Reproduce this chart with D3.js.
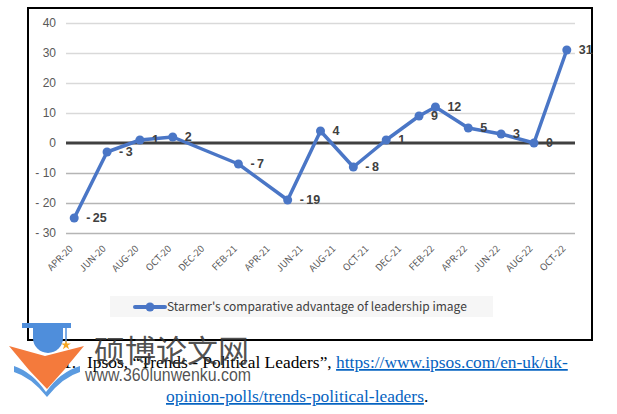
<!DOCTYPE html>
<html><head><meta charset="utf-8">
<script src="https://cdn.jsdelivr.net/npm/d3@7"></script>
<style>body{margin:0;background:#fff}svg{display:block}</style>
</head><body>
<svg id="c" width="617" height="414"></svg>
<script>
// ---- data ----
const pointMonths = ["2020-04","2020-06","2020-08","2020-10","2021-02","2021-05","2021-07","2021-09","2021-11","2022-01","2022-02","2022-04","2022-06","2022-08","2022-10"];
const values = [-25,-3,1,2,-7,-19,4,-8,1,9,12,5,3,0,31];
const tickMonths = ["2020-04","2020-06","2020-08","2020-10","2020-12","2021-02","2021-04","2021-06","2021-08","2021-10","2021-12","2022-02","2022-04","2022-06","2022-08","2022-10"];
const tickLabels = ["APR-20","JUN-20","AUG-20","OCT-20","DEC-20","FEB-21","APR-21","JUN-21","AUG-21","OCT-21","DEC-21","FEB-22","APR-22","JUN-22","AUG-22","OCT-22"];
const yTicks = [-30,-20,-10,0,10,20,30,40];
const seriesName = "Starmer's comparative advantage of leadership image";

const svg = d3.select("#c");
const fmtKey = d3.timeFormat("%Y-%m");
const allMonths = d3.timeMonth.range(new Date(2020,3,1), new Date(2022,10,1)).map(fmtKey);

const x = d3.scaleBand().domain(allMonths).range([66,575]);
const cx = k => x(k) + x.bandwidth()/2;
const y = d3.scaleLinear().domain([-30,40]).range([233,23]);
const blue = "#4a76c6";

// frame
svg.append("rect").attr("x",28).attr("y",8).attr("width",564).attr("height",332)
  .attr("fill","#fff").attr("stroke","#000").attr("stroke-width",2);

// grid
const yAxis = d3.axisLeft(y).tickValues(yTicks).tickSize(-(575-66)).tickPadding(10)
  .tickFormat(d => d < 0 ? "- " + Math.abs(d) : d);
const gy = svg.append("g").attr("transform","translate(66,0)").call(yAxis);
gy.select(".domain").remove();
gy.selectAll(".tick line").attr("stroke", d => d < 0 ? "#b5b5b5" : "#d9d9d9").attr("stroke-width",1.5)
  .attr("display", d => d === 0 ? "none" : null);
gy.selectAll(".tick text").attr("fill","#595959").attr("font-family","Liberation Sans, Arial, sans-serif").attr("font-size",12);

// zero line
svg.append("line").attr("x1",66).attr("x2",575).attr("y1",y(0)).attr("y2",y(0))
  .attr("stroke","#404040").attr("stroke-width",3);

// x axis
const xAxis = d3.axisBottom(x).tickValues(tickMonths).tickSize(0)
  .tickFormat((d,i) => tickLabels[i]);
const gx = svg.append("g").attr("transform",`translate(0,${y(-30)})`).call(xAxis);
gx.select(".domain").remove();
gx.selectAll(".tick text").attr("fill","#595959").attr("font-family","Noto Sans CJK SC, sans-serif")
  .attr("font-size",9.5).attr("text-anchor","end")
  .attr("transform","translate(-3,14) rotate(-45)").attr("dy","0.35em").attr("y",0).attr("x",0);

// line
const pts = pointMonths.map((m,i) => ({m, v: values[i]}));
svg.append("path").datum(pts)
  .attr("d", d3.line().x(d => cx(d.m)).y(d => y(d.v)))
  .attr("fill","none").attr("stroke",blue).attr("stroke-width",3.5).attr("stroke-linejoin","round");
svg.selectAll("circle.pt").data(pts).join("circle").attr("class","pt")
  .attr("cx", d => cx(d.m)).attr("cy", d => y(d.v)).attr("r",4.5).attr("fill",blue);
svg.selectAll("text.lbl").data(pts).join("text").attr("class","lbl")
  .attr("x", d => cx(d.m) + 12).attr("y", d => y(d.v)).attr("dy","0.35em")
  .attr("font-family","Liberation Sans, Arial, sans-serif").attr("font-size",12.5).attr("font-weight","bold")
  .attr("fill","#404040")
  .text(d => d.v < 0 ? "-\u2009" + Math.abs(d.v) : d.v);

// legend
svg.append("rect").attr("x",110).attr("y",296).attr("width",383).attr("height",21).attr("fill","#f6f6f6");
svg.append("line").attr("x1",135).attr("x2",165).attr("y1",307).attr("y2",307)
  .attr("stroke",blue).attr("stroke-width",4).attr("stroke-linecap","round");
svg.append("circle").attr("cx",150).attr("cy",307).attr("r",4.5).attr("fill",blue);
svg.append("text").attr("x",167).attr("y",307).attr("dy","0.35em")
  .attr("font-family","Noto Sans CJK SC, sans-serif").attr("font-size",12).attr("fill","#404040")
  .text(seriesName);

// footnote
const fn = svg.append("text").attr("x",63).attr("y",368)
  .attr("font-family","Liberation Serif, Times New Roman, serif").attr("font-size",17.4).attr("fill","#000");
fn.append("tspan").text("1.");
fn.append("tspan").attr("x",87).text("Ipsos, \u201cTrends - Political Leaders\u201d, ");
fn.append("tspan").attr("fill","#0563c1").attr("text-decoration","underline").text("https://www.ipsos.com/en-uk/uk-");
const fn2 = svg.append("text").attr("x",166).attr("y",402)
  .attr("font-family","Liberation Serif, Times New Roman, serif").attr("font-size",17.4).attr("fill","#000");
fn2.append("tspan").attr("fill","#0563c1").attr("text-decoration","underline").text("opinion-polls/trends-political-leaders");
fn2.append("tspan").text(".");

// watermark
const wm = svg.append("g");
wm.append("path").attr("d","M9,346 L45,356 L84,346 L64,370 L47,389 L29,370 Z").attr("fill","#f47a3c");
wm.append("path").attr("d","M14,366 Q32,372 46,392 Q60,372 80,366 L80,372 Q63,377 47,397 Q31,377 14,372 Z").attr("fill","#5b9be0");
wm.append("path").attr("d","M33,327 L63,327 L63,338 A15,15 0 0 1 33,338 Z").attr("fill","#4f8edb");
wm.append("rect").attr("x",22).attr("y",323).attr("width",49).attr("height",5).attr("fill","#4f8edb");
wm.append("line").attr("x1",66).attr("x2",66).attr("y1",325).attr("y2",342).attr("stroke","#4f8edb").attr("stroke-width",1.5);
wm.append("path").attr("d", d3.symbol(d3.symbolStar, 30)()).attr("transform","translate(66,345)").attr("fill","#f5a623");
wm.append("text").attr("x",94).attr("y",362).attr("font-family","Noto Sans CJK SC, sans-serif")
  .attr("font-size",31).attr("fill","#333").attr("fill-opacity",0.85).text("硕博论文网");
wm.append("text").attr("x",85).attr("y",381).attr("font-family","Liberation Sans, Arial, sans-serif")
  .attr("font-size",18).attr("fill","#333").attr("fill-opacity",0.85)
  .attr("textLength",166).attr("lengthAdjust","spacingAndGlyphs").text("www.360lunwenku.com");
</script>
</body></html>
